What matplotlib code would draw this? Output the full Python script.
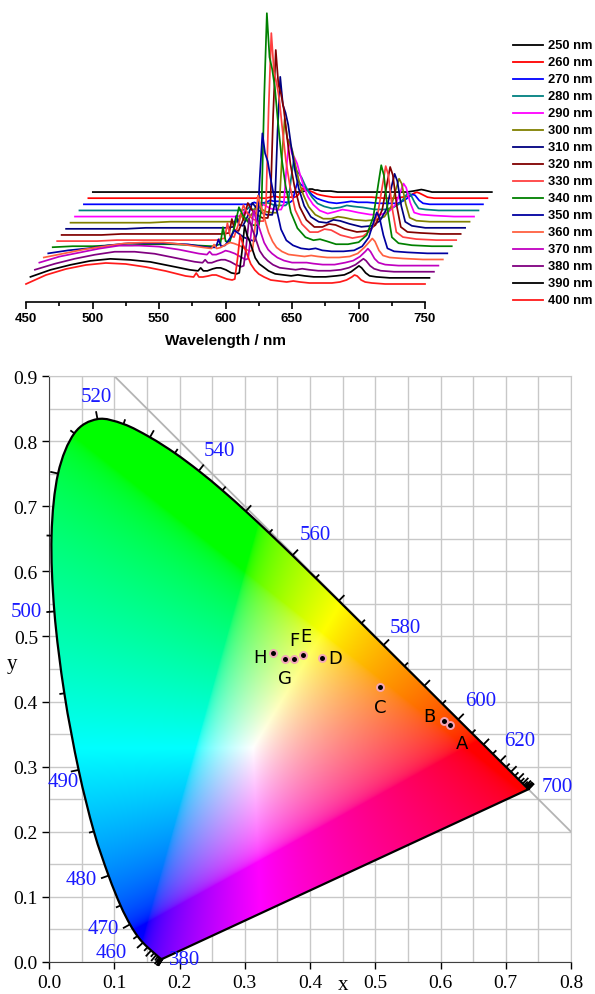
import numpy as np
import matplotlib
matplotlib.use("Agg")
import matplotlib.pyplot as plt
from matplotlib.patches import PathPatch
from matplotlib.path import Path
from matplotlib.lines import Line2D
from matplotlib.ticker import MultipleLocator, FormatStrFormatter

# ---------------- emission spectra (top panel) ----------------
excitation_nm = [250, 260, 270, 280, 290, 300, 310, 320, 330, 340, 350, 360, 370, 380, 390, 400]
trace_colors = ['#000000', '#FF0000', '#0000FF', '#008080', '#FF00FF', '#808000', '#000080', '#800000',
                '#FF4040', '#008000', '#0000A0', '#FF6040', '#C000C0', '#800080', '#000000', '#FF1A1A']

wavelength_nm = [450, 465, 480, 495, 510, 525, 540, 555, 570,
                 576, 578, 580, 583, 587, 590, 593, 597, 601, 605,
                 607, 609, 611, 613, 615, 617, 619, 622, 625, 629,
                 634, 640, 646, 651, 656, 663, 672, 680, 686, 691,
                 695, 697, 699, 702, 705, 710, 720, 735, 750]

spec_250 = [0, 0, 0, 0, 0, 0, 0, 0, 0,
            0, 0, 0, 0, 0, 0, 0, 0, 0, 0,
            0, 1, 2, 3, 3, 2, 2, 1, 1, 1,
            0, 0, 0, 0, 0, 0, 0, 0, 0, 1,
            2, 2.5, 2, 1, 0, 0, 0, 0, 0]
spec_260 = [0, 0, 0, 0, 0, 0, 0, 0, 0,
            0, 1, 0, 0, 1, 2, 1, 1, 1, 1,
            2, 6, 10, 8, 8, 7, 6, 4, 3, 2,
            1, 1, 1, 1, 1, 1, 0, 0, 1, 2,
            5, 6, 5, 3, 1, 0, 0, 0, 0]
spec_270 = [0, 0, 0, 0, 0, 0, 0, 0, 0,
            0, 2, 1, 1, 2, 4, 3, 3, 2, 2,
            4, 15, 24, 20, 18, 16, 13, 9, 6, 4,
            2, 1, 2, 3, 2, 2, 1, 1, 1, 4,
            8, 10, 9, 4, 1, 0, 0, 0, 0]
spec_280 = [0, 0, 0, 0, 0, 0, 0, 0, 0,
            1, 4, 1, 1, 5, 8, 7, 5, 5, 5,
            8, 31, 49, 40, 37, 33, 27, 19, 13, 7,
            4, 2, 3, 5, 4, 3, 1, 1, 3, 7,
            14, 18, 16, 8, 2, 1, 0, 0, 0]
spec_290 = [0, 0, 0, 0, 0, 0, 0, 0, 0,
            1, 7, 2, 2, 7, 13, 11, 8, 7, 7,
            13, 49, 77, 63, 59, 53, 43, 30, 20, 12,
            6, 3, 5, 7, 6, 4, 2, 2, 5, 12,
            26, 33, 29, 14, 4, 2, 1, 0, 0]
spec_300 = [0, 0, 0, 0, 0, 1, 1, 1, 1,
            1, 9, 3, 2, 10, 18, 14, 11, 10, 10,
            18, 67, 104, 84, 79, 71, 58, 40, 28, 16,
            8, 4, 4, 6, 5, 3, 2, 3, 6, 16,
            35, 44, 39, 19, 5, 2, 1, 1, 1]
spec_310 = [0, 0, 0, 0, 1, 1, 1, 1, 1,
            2, 13, 4, 3, 14, 26, 21, 16, 14, 14,
            26, 98, 152, 124, 116, 104, 85, 59, 40, 23,
            12, 7, 6, 9, 8, 5, 2, 3, 8, 20,
            44, 55, 48, 23, 7, 3, 1, 1, 1]
spec_320 = [0, 0, 0, 1, 1, 1, 1, 1, 1,
            2, 16, 5, 4, 17, 32, 25, 20, 17, 17,
            32, 119, 185, 150, 141, 126, 103, 71, 49, 28,
            15, 8, 8, 11, 10, 6, 3, 4, 10, 25,
            54, 68, 60, 29, 8, 3, 2, 1, 1]
spec_330 = [0, 0, 0, 1, 1, 1, 1, 1, 1,
            3, 18, 5, 4, 20, 36, 28, 22, 20, 20,
            36, 133, 208, 169, 158, 142, 116, 80, 55, 31,
            17, 9, 9, 12, 11, 6, 3, 5, 11, 27,
            59, 75, 66, 32, 9, 4, 2, 1, 1]
spec_340 = [0, 1, 1, 2, 2, 3, 3, 2, 1,
            3, 20, 6, 5, 22, 40, 32, 25, 22, 22,
            40, 150, 234, 190, 178, 160, 130, 90, 62, 35,
            19, 10, 7, 8, 6, 3, 3, 5, 12, 30,
            65, 82, 72, 35, 10, 4, 2, 1, 1]
spec_350 = [0, 3, 5, 8, 10, 10, 10, 9, 6,
            6, 14, 7, 8, 16, 23, 20, 16, 14, 12,
            20, 75, 120, 100, 92, 76, 62, 42, 24, 13,
            8, 5, 4, 5, 3, 2, 2, 3, 7, 16,
            33, 41, 36, 18, 5, 2, 1, 0, 0]
spec_360 = [2, 6, 10, 13, 16, 17, 17, 15, 12,
            11, 15, 11, 12, 15, 17, 16, 14, 11, 8,
            10, 35, 64, 54, 46, 36, 27, 18, 12, 8,
            5, 4, 3, 4, 3, 2, 2, 3, 6, 12,
            18, 21, 18, 9, 4, 2, 1, 0, 0]
spec_370 = [3, 9, 13, 17, 20, 20, 19, 16, 12,
            11, 14, 11, 11, 13, 15, 14, 12, 9, 6,
            7, 30, 55, 46, 39, 31, 23, 16, 12, 8,
            5, 3, 3, 3, 2, 1, 1, 3, 5, 9,
            14, 17, 14, 7, 3, 1, 0, 0, 0]
spec_380 = [2, 8, 13, 17, 20, 20, 18, 14, 10,
            9, 12, 9, 9, 11, 12, 12, 10, 7, 5,
            6, 27, 53, 44, 37, 29, 21, 15, 11, 7,
            4, 3, 2, 3, 2, 1, 1, 2, 4, 7,
            11, 13, 11, 6, 3, 1, 0, 0, 0]
spec_390 = [1, 8, 13, 17, 19, 18, 16, 12, 8,
            7, 10, 7, 7, 9, 10, 10, 8, 5, 4,
            5, 26, 52, 42, 36, 28, 20, 14, 11, 7,
            4, 3, 2, 3, 2, 1, 1, 2, 3, 6,
            10, 12, 10, 5, 2, 1, 0, 0, 0]
spec_400 = [0, 9, 15, 19, 21, 20, 17, 13, 8,
            7, 11, 7, 7, 8, 9, 9, 7, 5, 4,
            5, 25, 49, 40, 34, 27, 20, 14, 10, 7,
            4, 3, 2, 3, 2, 1, 1, 1, 2, 4,
            7, 9, 8, 4, 2, 1, 0, 0, 0]
spectra = [spec_250, spec_260, spec_270, spec_280, spec_290, spec_300, spec_310, spec_320,
           spec_330, spec_340, spec_350, spec_360, spec_370, spec_380, spec_390, spec_400]

# ---------------- CIE 1931 chromaticity (bottom panel) ----------------
locus_nm = [380, 385, 390, 395, 400, 405, 410, 415, 420, 425, 430, 435, 440, 445, 450, 455,
            460, 465, 470, 475, 480, 485, 490, 495, 500, 505, 510, 515, 520, 525, 530, 535,
            540, 545, 550, 555, 560, 565, 570, 575, 580, 585, 590, 595, 600, 605, 610, 615,
            620, 625, 630, 635, 640, 645, 650, 655, 660, 665, 670, 675, 680, 685, 690, 695, 700]
locus_x = [0.1741, 0.1740, 0.1738, 0.1736, 0.1733, 0.1730, 0.1726, 0.1721, 0.1714, 0.1703, 0.1689,
           0.1669, 0.1644, 0.1611, 0.1566, 0.1510, 0.1440, 0.1355, 0.1241, 0.1096, 0.0913, 0.0687,
           0.0454, 0.0235, 0.0082, 0.0039, 0.0139, 0.0389, 0.0743, 0.1142, 0.1547, 0.1929, 0.2296,
           0.2658, 0.3016, 0.3373, 0.3731, 0.4087, 0.4441, 0.4788, 0.5125, 0.5448, 0.5752, 0.6029,
           0.6270, 0.6482, 0.6658, 0.6801, 0.6915, 0.7006, 0.7079, 0.7140, 0.7190, 0.7230, 0.7260,
           0.7283, 0.7300, 0.7311, 0.7320, 0.7327, 0.7334, 0.7340, 0.7344, 0.7346, 0.7347]
locus_y = [0.0050, 0.0050, 0.0049, 0.0049, 0.0048, 0.0048, 0.0048, 0.0048, 0.0051, 0.0058, 0.0069,
           0.0086, 0.0109, 0.0138, 0.0177, 0.0227, 0.0297, 0.0399, 0.0578, 0.0868, 0.1327, 0.2007,
           0.2950, 0.4127, 0.5384, 0.6548, 0.7502, 0.8120, 0.8338, 0.8262, 0.8059, 0.7816, 0.7543,
           0.7243, 0.6923, 0.6589, 0.6245, 0.5896, 0.5547, 0.5202, 0.4866, 0.4544, 0.4242, 0.3965,
           0.3725, 0.3514, 0.3340, 0.3197, 0.3083, 0.2993, 0.2920, 0.2859, 0.2809, 0.2770, 0.2740,
           0.2717, 0.2700, 0.2689, 0.2680, 0.2673, 0.2666, 0.2660, 0.2656, 0.2654, 0.2653]

wl_labels = ['520', '540', '560', '580', '600', '620', '700', '500', '490', '480', '470', '460', '380']
wl_label_x = [0.072, 0.261, 0.408, 0.546, 0.661, 0.7215, 0.779, -0.035, 0.022, 0.050, 0.083, 0.096, 0.2075]
wl_label_y = [0.869, 0.785, 0.657, 0.514, 0.401, 0.3395, 0.270, 0.538, 0.277, 0.126, 0.052, 0.015, 0.004]

diag_x = [0.1, 0.8]
diag_y = [0.9, 0.2]

sample_names = ['A', 'B', 'C', 'D', 'E', 'F', 'G', 'H']
sample_x = [0.614, 0.606, 0.507, 0.418, 0.389, 0.376, 0.362, 0.343]
sample_y = [0.364, 0.370, 0.423, 0.467, 0.472, 0.466, 0.465, 0.474]
sample_label_x = [0.633, 0.5833, 0.5077, 0.4387, 0.394, 0.3758, 0.362, 0.3236]
sample_label_y = [0.336, 0.378, 0.392, 0.467, 0.500, 0.495, 0.436, 0.468]

# ---------------- figure ----------------
FW, FH = 595, 995
fig = plt.figure(figsize=(FW / 100, FH / 100), dpi=100)


def box(l, t, r, b):
    return [l / FW, 1 - b / FH, (r - l) / FW, (b - t) / FH]


# ---- top: waterfall of emission spectra ----
ax1 = fig.add_axes(box(26, 3, 425, 303))
ax1.set_xlim(450, 750)
ax1.set_ylim(0, 300)
X_STEP, Y_STEP, Y0 = 3.35, 6.13, 18.0
n = len(excitation_nm)
for k, (col, sp) in enumerate(zip(trace_colors, spectra)):
    i = n - 1 - k
    xs = np.asarray(wavelength_nm, float) + i * X_STEP
    ys = np.asarray(sp, float) + Y0 + i * Y_STEP
    ax1.plot(xs, ys, color=col, lw=1.25, clip_on=False, zorder=2 + k, solid_joinstyle='round')
for s in ['left', 'top', 'right']:
    ax1.spines[s].set_visible(False)
ax1.spines['bottom'].set_linewidth(1.2)
ax1.set_yticks([])
ax1.patch.set_visible(False)
ax1.xaxis.set_major_locator(MultipleLocator(50))
ax1.xaxis.set_minor_locator(MultipleLocator(25))
ax1.tick_params(axis='x', which='major', length=5, width=1.2, direction='out', pad=2, labelsize=9.5)
ax1.tick_params(axis='x', which='minor', length=3, width=1.2, direction='out')
for lab in ax1.get_xticklabels():
    lab.set_fontfamily('Liberation Sans')
    lab.set_fontweight('bold')
ax1.set_xlabel('Wavelength / nm', fontsize=11, fontweight='bold', family='Liberation Sans', labelpad=7)

for k, (ex, col) in enumerate(zip(excitation_nm, trace_colors)):
    yp = 45.7 + 17.0 * k
    fig.add_artist(Line2D([513 / FW, 543 / FW], [1 - yp / FH, 1 - yp / FH], color=col, lw=1.3,
                          transform=fig.transFigure))
    fig.text(548 / FW, 1 - yp / FH, f'{ex} nm', fontsize=9.3, fontweight='bold', family='Liberation Sans',
             ha='left', va='center')

# ---- bottom: CIE chromaticity diagram ----
ax2 = fig.add_axes(box(49, 377, 571, 963))
ax2.set_xlim(0, 0.8)
ax2.set_ylim(0, 0.9)
ax2.set_axisbelow(True)
ax2.xaxis.set_major_locator(MultipleLocator(0.1))
ax2.yaxis.set_major_locator(MultipleLocator(0.1))
ax2.xaxis.set_minor_locator(MultipleLocator(0.05))
ax2.yaxis.set_minor_locator(MultipleLocator(0.05))
ax2.xaxis.set_major_formatter(FormatStrFormatter('%.1f'))
ax2.yaxis.set_major_formatter(FormatStrFormatter('%.1f'))
ax2.grid(which='both', color='#c8c8c8', lw=1.0)
ax2.tick_params(which='major', length=5, width=1.0, direction='out', labelsize=14)
ax2.tick_params(axis='x', which='major', pad=3.5)
ax2.tick_params(axis='y', which='major', pad=3)
ax2.tick_params(which='minor', length=0)
for lab in ax2.get_xticklabels() + ax2.get_yticklabels():
    lab.set_fontfamily('Liberation Serif')
for s in ['top', 'right']:
    ax2.spines[s].set_color('#c8c8c8')
for s in ['left', 'bottom']:
    ax2.spines[s].set_color('#404040')

# smooth outline of the spectral locus (Catmull-Rom drawn as cubic Bezier), closed by the purple line
pts = np.column_stack([locus_x, locus_y])
m = len(pts)
verts = [pts[0]]
codes = [Path.MOVETO]
for j in range(m - 1):
    p0 = pts[max(j - 1, 0)]
    p1 = pts[j]
    p2 = pts[j + 1]
    p3 = pts[min(j + 2, m - 1)]
    verts += [p1 + (p2 - p0) / 6.0, p2 - (p3 - p1) / 6.0, p2]
    codes += [Path.CURVE4] * 3
verts += [pts[0], pts[0]]
codes += [Path.LINETO, Path.CLOSEPOLY]
outline = Path(np.array(verts), codes)

# colour fill
nx, ny = 560, 630
gx = np.linspace(0, 0.8, nx)
gy = np.linspace(0, 0.9, ny)
GX, GY = np.meshgrid(gx, gy)
GYc = np.clip(GY, 1e-4, None)
Xc = GX / GYc
Zc = (1 - GX - GY) / GYc
M = np.array([[3.2406, -1.5372, -0.4986],
              [-0.9689, 1.8758, 0.0415],
              [0.0557, -0.2040, 1.0570]])
rgb = np.stack([M[r, 0] * Xc + M[r, 1] + M[r, 2] * Zc for r in range(3)], axis=-1)
rgb = np.clip(rgb, 0, None)
rgb = rgb / np.clip(rgb.max(axis=-1, keepdims=True), 1e-9, None)
rgb = np.where(rgb <= 0.0031308, 12.92 * rgb, 1.055 * np.power(rgb, 1 / 2.4) - 0.055)
rgb = np.clip(rgb, 0, 1)
im = ax2.imshow(rgb, origin='lower', extent=[0, 0.8, 0, 0.9], interpolation='bilinear', aspect='auto', zorder=1)
clip_patch = PathPatch(outline, transform=ax2.transData, facecolor='none', edgecolor='none')
im.set_clip_path(clip_patch)

ax2.plot(diag_x, diag_y, color='#b4b4b4', lw=1.3, zorder=1.5)
ax2.add_patch(PathPatch(outline, facecolor='none', edgecolor='k', lw=1.6, zorder=3))

# ticks on the spectral locus
P = ax2.transData.transform(pts)
inv = ax2.transData.inverted()
cen = ax2.transData.transform((0.33, 0.33))
for j, nm in enumerate(locus_nm):
    a = j
    while a > 0 and np.hypot(*(P[a] - P[j])) < 6:
        a -= 1
    b = j
    while b < m - 1 and np.hypot(*(P[b] - P[j])) < 6:
        b += 1
    t = P[b] - P[a]
    t = t / max(np.hypot(*t), 1e-9)
    nrm = np.array([-t[1], t[0]])
    if np.dot(nrm, P[j] - cen) < 0:
        nrm = -nrm
    L = 8 if nm % 10 == 0 else 5
    seg = inv.transform(np.array([P[j], P[j] + nrm * L]))
    ax2.plot(seg[:, 0], seg[:, 1], color='k', lw=1.3, clip_on=False, solid_capstyle='butt', zorder=3)

for lab, lx, ly in zip(wl_labels, wl_label_x, wl_label_y):
    ax2.text(lx, ly, lab, color='#1a1aff', fontsize=15, family='Liberation Serif', ha='center', va='center',
             clip_on=False, zorder=4)

ax2.plot(sample_x, sample_y, ls='none', marker='o', ms=5, mfc='k', mec='#f4a6b8', mew=1.4, zorder=5)
for nm_, lx, ly in zip(sample_names, sample_label_x, sample_label_y):
    ax2.text(lx, ly, nm_, fontsize=13, family='DejaVu Sans', ha='center', va='center', zorder=6)

fig.text(343 / FW, 1 - 986 / FH, 'x', fontsize=15, family='Liberation Serif', ha='center', va='center')
fig.text(12 / FW, 1 - 665 / FH, 'y', fontsize=15, family='Liberation Serif', ha='center', va='center')

fig.savefig('out.png', dpi=100)
